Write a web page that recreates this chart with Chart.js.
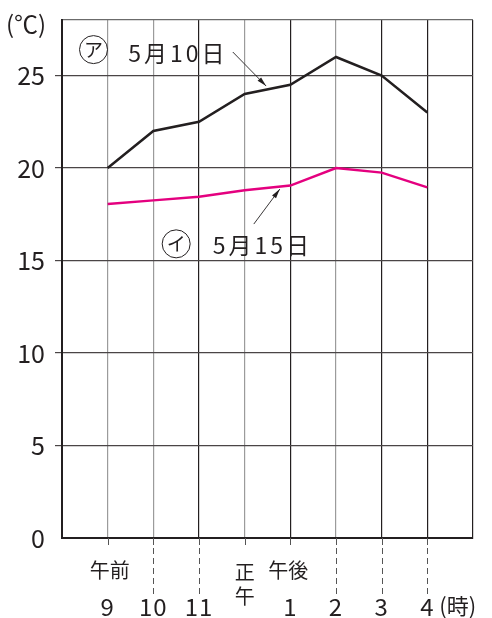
<!DOCTYPE html>
<html>
<head>
<meta charset="utf-8">
<script src="https://cdn.jsdelivr.net/npm/chart.js@4.4.1/dist/chart.umd.min.js"></script>
<style>
  html, body { margin: 0; padding: 0; background: #fff; }
  #wrap { width: 492px; height: 618px; }
</style>
</head>
<body>
<div id="wrap"><canvas id="tempChart" width="492" height="618"></canvas></div>
<script>
// Temperature readings by hour (9 a.m. .. 4 p.m.)
const hours = [9, 10, 11, 12, 13, 14, 15, 16];
const hourLabels = ['9', '10', '11', '', '1', '2', '3', '4'];
const may10 = [20, 22, 22.5, 24, 24.5, 26, 25, 23];
const may15 = [18.05, 18.25, 18.45, 18.8, 19.05, 20, 19.75, 18.95];
const yTickValues = [0, 5, 10, 15, 20, 25];

const ink = '#231f20';
const pink = '#e4007f';
const FONT = '"Noto Sans CJK JP", "Noto Sans", sans-serif';

// hours whose vertical grid line prints dark
const darkHours = [11, 13, 15, 16];
// hours whose line continues dashed below the axis
const dashedHours = [10, 11, 14, 15, 16];

const toPoints = (arr) => hours.map((h, i) => ({ x: h, y: arr[i] }));

// Draws labels below the axis, the unit, and the two arrowed captions
const decorations = {
    id: 'decorations',
    afterDraw(chart) {
        const ctx = chart.ctx;
        const xs = chart.scales.x;
        const ys = chart.scales.y;
        const px = (v) => xs.getPixelForValue(v);
        const py = (v) => ys.getPixelForValue(v);
        const bottom = chart.chartArea.bottom;

        ctx.save();
        // ticks and dashed guide lines under the axis
        ctx.strokeStyle = '#555';
        ctx.lineWidth = 1;
        hours.forEach((h) => {
            const x = Math.round(px(h)) + 0.5;
            ctx.setLineDash([]);
            ctx.beginPath();
            ctx.moveTo(x, bottom);
            ctx.lineTo(x, bottom + 7);
            ctx.stroke();
            if (dashedHours.includes(h)) {
                ctx.setLineDash([6, 4]);
                ctx.beginPath();
                ctx.moveTo(x, bottom + 10);
                ctx.lineTo(x, bottom + 60);
                ctx.stroke();
            }
        });
        ctx.setLineDash([]);

        // hour numbers
        ctx.fillStyle = ink;
        ctx.textAlign = 'center';
        ctx.textBaseline = 'middle';
        ctx.font = '24px ' + FONT;
        ctx.letterSpacing = '1px';
        hours.forEach((h, i) => {
            if (hourLabels[i]) ctx.fillText(hourLabels[i], px(h), bottom + 69);
        });
        ctx.letterSpacing = '0px';
        ctx.font = '20px ' + FONT;
        ctx.fillText('午前', px(9) + 2, bottom + 32);
        ctx.fillText('正', px(12), bottom + 34);
        ctx.fillText('午', px(12), bottom + 58);
        ctx.fillText('午後', px(13) - 2, bottom + 32);
        ctx.font = '22px ' + FONT;
        ctx.textAlign = 'left';
        ctx.fillText('(時)', px(16) + 12, bottom + 68);
        ctx.font = '24px ' + FONT;
        ctx.fillText('(℃)', 6, 24);

        // captions
        const caption = (kana, text, cx, cy, tx, ty) => {
            ctx.strokeStyle = ink;
            ctx.lineWidth = 1;
            ctx.beginPath();
            ctx.arc(px(cx), py(cy), 14, 0, Math.PI * 2);
            ctx.stroke();
            ctx.font = '19px ' + FONT;
            ctx.textAlign = 'center';
            ctx.fillText(kana, px(cx), py(cy));
            ctx.font = '23px ' + FONT;
            ctx.textAlign = 'left';
            ctx.letterSpacing = '3px';
            ctx.fillText(text, px(tx), py(ty));
            ctx.letterSpacing = '0px';
        };
        caption('ア', '5月10日', 8.69, 26.4, 9.45, 26.2);
        caption('イ', '5月15日', 10.5, 15.9, 11.3, 15.8);

        // arrows
        const arrow = (x0, y0, x1, y1) => {
            const ax = px(x0), ay = py(y0), bx = px(x1), by = py(y1);
            const ang = Math.atan2(by - ay, bx - ax);
            ctx.strokeStyle = ink;
            ctx.lineWidth = 0.9;
            ctx.beginPath();
            ctx.moveTo(ax, ay);
            ctx.lineTo(bx, by);
            ctx.stroke();
            ctx.beginPath();
            ctx.moveTo(bx, by);
            ctx.lineTo(bx - 10 * Math.cos(ang - 0.25), by - 10 * Math.sin(ang - 0.25));
            ctx.lineTo(bx - 10 * Math.cos(ang + 0.25), by - 10 * Math.sin(ang + 0.25));
            ctx.closePath();
            ctx.fillStyle = ink;
            ctx.fill();
        };
        arrow(11.74, 26.27, 12.47, 24.43);
        arrow(12.2, 16.97, 12.77, 18.86);
        ctx.restore();
    }
};

const ctx = document.getElementById('tempChart').getContext('2d');
new Chart(ctx, {
    type: 'line',
    data: {
        datasets: [
            {
                label: '5月10日',
                data: toPoints(may10),
                borderColor: ink,
                borderWidth: 2.5,
                pointRadius: 0,
                tension: 0
            },
            {
                label: '5月15日',
                data: toPoints(may15),
                borderColor: pink,
                borderWidth: 2.5,
                pointRadius: 0,
                tension: 0
            }
        ]
    },
    options: {
        responsive: false,
        animation: false,
        layout: { padding: { top: 20, right: 19, left: 0, bottom: 0 } },
        plugins: {
            legend: { display: false },
            tooltip: { enabled: false }
        },
        scales: {
            x: {
                type: 'linear',
                min: 8,
                max: 17,
                ticks: { display: false, stepSize: 1 },
                afterFit: (scale) => { scale.height = 80; },
                grid: {
                    drawTicks: false,
                    lineWidth: 1.2,
                    color: (c) => {
                        const v = c.tick ? c.tick.value : 0;
                        if (v === 17) return ink;
                        return darkHours.includes(v) ? ink : '#9b9b9b';
                    }
                },
                border: { color: ink, width: 2 }
            },
            y: {
                min: 0,
                max: 28,
                afterFit: (scale) => {
                    scale.width = 62;
                    scale.paddingTop = 0;
                    scale.paddingBottom = 0;
                },
                afterBuildTicks: (scale) => {
                    scale.ticks = yTickValues.concat([28]).map((v) => ({ value: v }));
                },
                ticks: {
                    padding: 10,
                    color: ink,
                    font: { size: 25, family: FONT },
                    callback: (v) => (yTickValues.includes(v) ? String(v) : '')
                },
                grid: {
                    tickLength: 7,
                    lineWidth: 1.2,
                    color: (c) => (c.tick && c.tick.value === 28 ? '#6b6b6b' : '#4a4546'),
                    tickColor: (c) => (c.tick && (c.tick.value === 28 || c.tick.value === 0) ? 'rgba(0,0,0,0)' : '#4a4546')
                },
                border: { color: ink, width: 2 }
            }
        }
    },
    plugins: [decorations]
});
</script>
</body>
</html>
